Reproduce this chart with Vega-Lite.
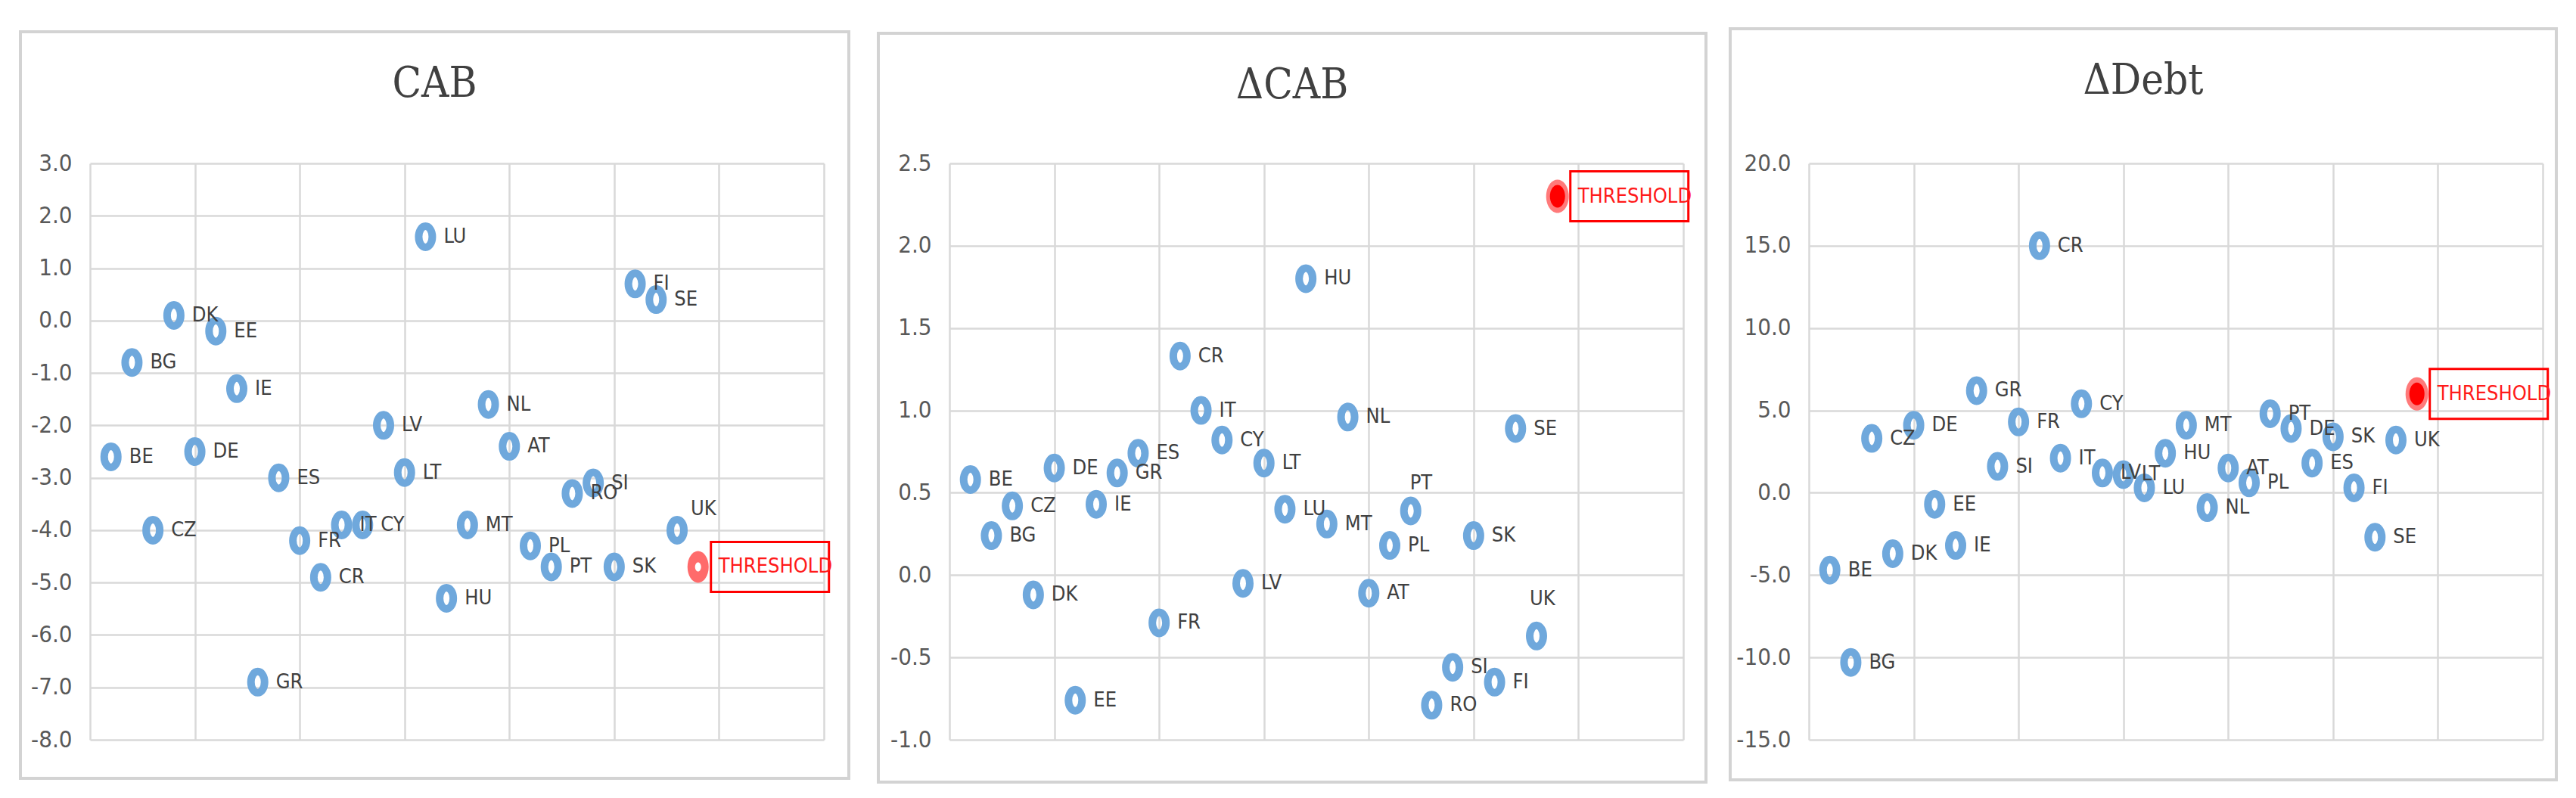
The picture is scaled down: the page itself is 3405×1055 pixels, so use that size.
{
  "$schema": "https://vega.github.io/schema/vega-lite/v6.json",
  "background": "white",
  "padding": {"left": 25, "top": 36, "right": 10, "bottom": 10},
  "spacing": 166,
  "bounds": "flush",
  "config": {
    "view": {"stroke": null},
    "axis": {
      "gridColor": "#d9d9d9",
      "gridWidth": 2.5,
      "labelFont": "DejaVu Sans Condensed, Liberation Sans Narrow, Liberation Sans, sans-serif",
      "labelFontSize": 31,
      "labelColor": "#595959",
      "ticks": false,
      "domain": false,
      "labelPadding": 24,
      "title": null
    },
    "axisX": {"labels": false},
    "title": {
      "font": "DejaVu Serif Condensed, DejaVu Serif, serif",
      "fontSize": 56,
      "fontWeight": "normal",
      "color": "#404040",
      "anchor": "middle",
      "frame": "bounds",
      "baseline": "bottom",
      "offset": -100
    },
    "text": {"font": "DejaVu Sans Condensed, Liberation Sans Narrow, Liberation Sans, sans-serif", "fontSize": 27, "color": "#404040", "align": "left", "baseline": "middle"}
  },
  "datasets": {
    "cab": [
      {"n": 1, "c": "BE", "v": -2.6}, {"n": 2, "c": "BG", "v": -0.8}, {"n": 3, "c": "CZ", "v": -4.0},
      {"n": 4, "c": "DK", "v": 0.1}, {"n": 5, "c": "DE", "v": -2.5}, {"n": 6, "c": "EE", "v": -0.2},
      {"n": 7, "c": "IE", "v": -1.3}, {"n": 8, "c": "GR", "v": -6.9}, {"n": 9, "c": "ES", "v": -3.0},
      {"n": 10, "c": "FR", "v": -4.2}, {"n": 11, "c": "CR", "v": -4.9}, {"n": 12, "c": "IT", "v": -3.9},
      {"n": 13, "c": "CY", "v": -3.9}, {"n": 14, "c": "LV", "v": -2.0}, {"n": 15, "c": "LT", "v": -2.9},
      {"n": 16, "c": "LU", "v": 1.6}, {"n": 17, "c": "HU", "v": -5.3}, {"n": 18, "c": "MT", "v": -3.9},
      {"n": 19, "c": "NL", "v": -1.6}, {"n": 20, "c": "AT", "v": -2.4}, {"n": 21, "c": "PL", "v": -4.3},
      {"n": 22, "c": "PT", "v": -4.7}, {"n": 23, "c": "RO", "v": -3.3}, {"n": 24, "c": "SI", "v": -3.1},
      {"n": 25, "c": "SK", "v": -4.7}, {"n": 26, "c": "FI", "v": 0.7}, {"n": 27, "c": "SE", "v": 0.4},
      {"n": 28, "c": "UK", "v": -4.0}, {"n": 29, "c": "THRESHOLD", "v": -4.7}
    ],
    "dcab": [
      {"n": 1, "c": "BE", "v": 0.58}, {"n": 2, "c": "BG", "v": 0.24}, {"n": 3, "c": "CZ", "v": 0.42},
      {"n": 4, "c": "DK", "v": -0.12}, {"n": 5, "c": "DE", "v": 0.65}, {"n": 6, "c": "EE", "v": -0.76},
      {"n": 7, "c": "IE", "v": 0.43}, {"n": 8, "c": "GR", "v": 0.62}, {"n": 9, "c": "ES", "v": 0.74},
      {"n": 10, "c": "FR", "v": -0.29}, {"n": 11, "c": "CR", "v": 1.33}, {"n": 12, "c": "IT", "v": 1.0},
      {"n": 13, "c": "CY", "v": 0.82}, {"n": 14, "c": "LV", "v": -0.05}, {"n": 15, "c": "LT", "v": 0.68},
      {"n": 16, "c": "LU", "v": 0.4}, {"n": 17, "c": "HU", "v": 1.8}, {"n": 18, "c": "MT", "v": 0.31},
      {"n": 19, "c": "NL", "v": 0.96}, {"n": 20, "c": "AT", "v": -0.11}, {"n": 21, "c": "PL", "v": 0.18},
      {"n": 22, "c": "PT", "v": 0.39}, {"n": 23, "c": "RO", "v": -0.79}, {"n": 24, "c": "SI", "v": -0.56},
      {"n": 25, "c": "SK", "v": 0.24}, {"n": 26, "c": "FI", "v": -0.65}, {"n": 27, "c": "SE", "v": 0.89},
      {"n": 28, "c": "UK", "v": -0.37}, {"n": 29, "c": "THRESHOLD", "v": 2.3}
    ],
    "ddebt": [
      {"n": 1, "c": "BE", "v": -4.7}, {"n": 2, "c": "BG", "v": -10.3}, {"n": 3, "c": "CZ", "v": 3.3},
      {"n": 4, "c": "DK", "v": -3.7}, {"n": 5, "c": "DE", "v": 4.1}, {"n": 6, "c": "EE", "v": -0.7},
      {"n": 7, "c": "IE", "v": -3.2}, {"n": 8, "c": "GR", "v": 6.2}, {"n": 9, "c": "SI", "v": 1.6},
      {"n": 10, "c": "FR", "v": 4.3}, {"n": 11, "c": "CR", "v": 15.0}, {"n": 12, "c": "IT", "v": 2.1},
      {"n": 13, "c": "CY", "v": 5.4}, {"n": 14, "c": "LV", "v": 1.2}, {"n": 15, "c": "LT", "v": 1.1},
      {"n": 16, "c": "LU", "v": 0.3}, {"n": 17, "c": "HU", "v": 2.4}, {"n": 18, "c": "MT", "v": 4.1},
      {"n": 19, "c": "NL", "v": -0.9}, {"n": 20, "c": "AT", "v": 1.5}, {"n": 21, "c": "PL", "v": 0.6},
      {"n": 22, "c": "PT", "v": 4.8}, {"n": 23, "c": "DE", "v": 3.9}, {"n": 24, "c": "ES", "v": 1.8},
      {"n": 25, "c": "SK", "v": 3.4}, {"n": 26, "c": "FI", "v": 0.3}, {"n": 27, "c": "SE", "v": -2.7},
      {"n": 28, "c": "UK", "v": 3.2}, {"n": 29, "c": "THRESHOLD", "v": 6.0}
    ]
  },
  "hconcat": [
    {
      "width": 970, "height": 762,
      "title": {"text": "CAB"},
      "data": {"name": "cab"},
      "encoding": {
        "x": {"field": "n", "type": "quantitative", "scale": {"domain": [0, 35], "nice": false, "zero": false},
              "axis": {"values": [0, 5, 10, 15, 20, 25, 30, 35]}},
        "y": {"field": "v", "type": "quantitative", "scale": {"domain": [-8, 3], "nice": false, "zero": false},
              "axis": {"values": [-8, -7, -6, -5, -4, -3, -2, -1, 0, 1, 2, 3], "format": ".1f", "labelExpr": "replace(datum.label, '−', '-')"}}
      },
      "layer": [
        {"transform": [{"aggregate": [{"op": "count", "as": "k"}]}],
         "mark": {"type": "rect", "fill": "transparent", "stroke": "#d3d3d3", "strokeWidth": 4},
         "encoding": {"x": {"value": -92}, "x2": {"value": 1003}, "y": {"value": -174}, "y2": {"value": 813}}},
        {"transform": [{"filter": "datum.c !== 'THRESHOLD'"}],
         "mark": {"type": "point", "shape": "M-9,0A9,14 0 1,0 9,0A9,14 0 1,0 -9,0Z", "size": 4, "filled": false, "stroke": "#6fa8dc", "strokeWidth": 10, "opacity": 1}},
        {"transform": [{"filter": "datum.c !== 'THRESHOLD' && datum.c !== 'UK'"}],
         "mark": {"type": "text", "dx": 24}, "encoding": {"text": {"field": "c"}}},
        {"transform": [{"filter": "datum.c === 'UK'"}],
         "mark": {"type": "text", "dx": 18, "dy": -28}, "encoding": {"text": {"field": "c"}}},
        {"transform": [{"filter": "datum.c === 'THRESHOLD'"}],
         "mark": {"type": "point", "shape": "M-14,0A14,21 0 1,0 14,0A14,21 0 1,0 -14,0Z", "size": 4, "filled": true, "fill": "#ff6b6b", "strokeWidth": 0, "opacity": 1}},
        {"transform": [{"filter": "datum.c === 'THRESHOLD'"}],
         "mark": {"type": "point", "shape": "M-4,0A4,6 0 1,0 4,0A4,6 0 1,0 -4,0Z", "size": 4, "filled": true, "fill": "#ffffff", "strokeWidth": 0, "opacity": 1}},
        {"transform": [{"filter": "datum.c === 'THRESHOLD'"}],
         "mark": {"type": "point", "shape": "M17,-33L173,-33L173,33L17,33Z", "size": 4, "filled": false, "stroke": "#ff0000", "strokeWidth": 3, "opacity": 1}},
        {"transform": [{"filter": "datum.c === 'THRESHOLD'"}],
         "mark": {"type": "text", "dx": 27, "color": "#ff1a1a"}, "encoding": {"text": {"field": "c"}}}
      ]
    },
    {
      "width": 970, "height": 762,
      "title": {"text": "ΔCAB"},
      "data": {"name": "dcab"},
      "encoding": {
        "x": {"field": "n", "type": "quantitative", "scale": {"domain": [0, 35], "nice": false, "zero": false},
              "axis": {"values": [0, 5, 10, 15, 20, 25, 30, 35]}},
        "y": {"field": "v", "type": "quantitative", "scale": {"domain": [-1, 2.5], "nice": false, "zero": false},
              "axis": {"values": [-1, -0.5, 0, 0.5, 1, 1.5, 2, 2.5], "format": ".1f", "labelExpr": "replace(datum.label, '−', '-')"}}
      },
      "layer": [
        {"transform": [{"aggregate": [{"op": "count", "as": "k"}]}],
         "mark": {"type": "rect", "fill": "transparent", "stroke": "#d3d3d3", "strokeWidth": 4},
         "encoding": {"x": {"value": -94}, "x2": {"value": 1000}, "y": {"value": -172}, "y2": {"value": 818}}},
        {"transform": [{"filter": "datum.c !== 'THRESHOLD'"}],
         "mark": {"type": "point", "shape": "M-9,0A9,14 0 1,0 9,0A9,14 0 1,0 -9,0Z", "size": 4, "filled": false, "stroke": "#6fa8dc", "strokeWidth": 10, "opacity": 1}},
        {"transform": [{"filter": "datum.c !== 'THRESHOLD' && datum.c !== 'UK' && datum.c !== 'PT'"}],
         "mark": {"type": "text", "dx": 24}, "encoding": {"text": {"field": "c"}}},
        {"transform": [{"filter": "datum.c === 'PT'"}],
         "mark": {"type": "text", "dx": -1, "dy": -36}, "encoding": {"text": {"field": "c"}}},
        {"transform": [{"filter": "datum.c === 'UK'"}],
         "mark": {"type": "text", "dx": -9, "dy": -49}, "encoding": {"text": {"field": "c"}}},
        {"transform": [{"filter": "datum.c === 'THRESHOLD'"}],
         "mark": {"type": "point", "shape": "M-15,0A15,22 0 1,0 15,0A15,22 0 1,0 -15,0Z", "size": 4, "filled": true, "fill": "#ff7a7a", "strokeWidth": 0, "opacity": 1}},
        {"transform": [{"filter": "datum.c === 'THRESHOLD'"}],
         "mark": {"type": "point", "shape": "M-10,0A10,15 0 1,0 10,0A10,15 0 1,0 -10,0Z", "size": 4, "filled": true, "fill": "#ff0000", "strokeWidth": 0, "opacity": 1}},
        {"transform": [{"filter": "datum.c === 'THRESHOLD'"}],
         "mark": {"type": "point", "shape": "M17,-33L173,-33L173,33L17,33Z", "size": 4, "filled": false, "stroke": "#ff0000", "strokeWidth": 3, "opacity": 1}},
        {"transform": [{"filter": "datum.c === 'THRESHOLD'"}],
         "mark": {"type": "text", "dx": 27, "color": "#ff1a1a"}, "encoding": {"text": {"field": "c"}}}
      ]
    },
    {
      "width": 970, "height": 762,
      "title": {"text": "ΔDebt"},
      "data": {"name": "ddebt"},
      "encoding": {
        "x": {"field": "n", "type": "quantitative", "scale": {"domain": [0, 35], "nice": false, "zero": false},
              "axis": {"values": [0, 5, 10, 15, 20, 25, 30, 35]}},
        "y": {"field": "v", "type": "quantitative", "scale": {"domain": [-15, 20], "nice": false, "zero": false},
              "axis": {"values": [-15, -10, -5, 0, 5, 10, 15, 20], "format": ".1f", "labelExpr": "replace(datum.label, '−', '-')"}}
      },
      "layer": [
        {"transform": [{"aggregate": [{"op": "count", "as": "k"}]}],
         "mark": {"type": "rect", "fill": "transparent", "stroke": "#d3d3d3", "strokeWidth": 4},
         "encoding": {"x": {"value": -104}, "x2": {"value": 988}, "y": {"value": -178}, "y2": {"value": 815}}},
        {"transform": [{"filter": "datum.c !== 'THRESHOLD'"}],
         "mark": {"type": "point", "shape": "M-9,0A9,14 0 1,0 9,0A9,14 0 1,0 -9,0Z", "size": 4, "filled": false, "stroke": "#6fa8dc", "strokeWidth": 10, "opacity": 1}},
        {"transform": [{"filter": "datum.c !== 'THRESHOLD'"}],
         "mark": {"type": "text", "dx": 24}, "encoding": {"text": {"field": "c"}}},
        {"transform": [{"filter": "datum.c === 'THRESHOLD'"}],
         "mark": {"type": "point", "shape": "M-15,0A15,22 0 1,0 15,0A15,22 0 1,0 -15,0Z", "size": 4, "filled": true, "fill": "#ff7a7a", "strokeWidth": 0, "opacity": 1}},
        {"transform": [{"filter": "datum.c === 'THRESHOLD'"}],
         "mark": {"type": "point", "shape": "M-10,0A10,15 0 1,0 10,0A10,15 0 1,0 -10,0Z", "size": 4, "filled": true, "fill": "#ff0000", "strokeWidth": 0, "opacity": 1}},
        {"transform": [{"filter": "datum.c === 'THRESHOLD'"}],
         "mark": {"type": "point", "shape": "M17,-33L173,-33L173,33L17,33Z", "size": 4, "filled": false, "stroke": "#ff0000", "strokeWidth": 3, "opacity": 1}},
        {"transform": [{"filter": "datum.c === 'THRESHOLD'"}],
         "mark": {"type": "text", "dx": 27, "color": "#ff1a1a"}, "encoding": {"text": {"field": "c"}}}
      ]
    }
  ]
}
